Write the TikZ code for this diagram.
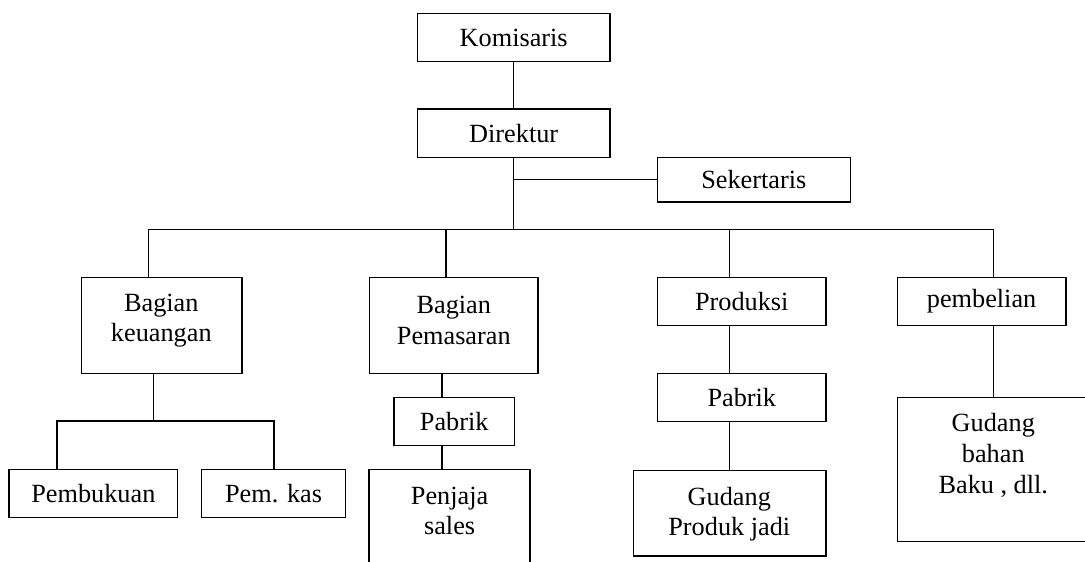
\documentclass[tikz,border=0pt]{standalone}
\usepackage{fontspec}
\setmainfont{Liberation Serif}
\begin{document}
\begin{tikzpicture}[x=0.75pt,y=-0.75pt,
  box/.style={draw, line width=1pt, rectangle, inner sep=0pt,
    font=\fontsize{19.7}{22.9}\selectfont},
  txt/.style={inner sep=0pt, align=center, font=\fontsize{19.7}{22.9}\selectfont},
  conn/.style={line width=1pt}]
\def\px{0.75pt}
\useasboundingbox (0,0) rectangle (1085,561);
\clip (0,0) rectangle (1085,561);

% top
\node[box, minimum width=192.7*\px, minimum height=48.4*\px] (kom) at (513.7,37.5) {Komisaris};
\node[box, minimum width=192.7*\px, minimum height=48.3*\px] (dir) at (513.7,133.2) {Direktur};
\node[box, minimum width=193*\px, minimum height=44.7*\px] (sek) at (753.8,179.7) {Sekertaris};

% bus junctions
\coordinate (bk)  at (148.3,229.3);
\coordinate (bp)  at (446,229.3);
\coordinate (bpr) at (729.4,229.3);
\coordinate (bb)  at (993.5,229.3);

% second level
\node[box, minimum width=160.6*\px, minimum height=96*\px] (keu) at (161.7,325.3) {};
\node[txt] (keut) at (161.3,320.5) {Bagian\\keuangan};
\node[box, minimum width=168.3*\px, minimum height=96*\px] (pem) at (453.8,325.3) {};
\node[txt] (pemt) at (453.8,320.5) {Bagian\\Pemasaran};
\node[box, minimum width=168.5*\px, minimum height=48.4*\px] (pro) at (741.8,301.5) {Produksi};
\node[box, minimum width=168.6*\px, minimum height=48.4*\px] (pbl) at (981.6,301.5) {pembelian};

% keuangan subtree
\coordinate (ks) at (153.7,421);
\coordinate (s1) at (57,421);
\coordinate (s2) at (274.1,421);
\node[box, minimum width=168.7*\px, minimum height=48*\px] (pbk) at (93.4,493.3) {Pembukuan};
\node[box, minimum width=143.8*\px, minimum height=48.5*\px] (pks) at (273.6,493.5) {Pem. kas};

% pemasaran subtree
\coordinate (pmx) at (442,400);
\node[box, minimum width=120.7*\px, minimum height=48.4*\px] (pab1) at (454.2,421.5) {Pabrik};
\node[box, minimum width=161*\px, minimum height=140*\px] (pjj) at (449.5,539.3) {};
\node[txt] (pjjt) at (449.6,510.8) {Penjaja\\sales};

% produksi subtree
\node[box, minimum width=168.5*\px, minimum height=48.4*\px] (pab2) at (741.8,397.5) {Pabrik};
\node[box, minimum width=192.8*\px, minimum height=85.7*\px] (gpj) at (729.6,513.2) {};
\node[txt] (gpjt) at (729.3,514.4) {Gudang\\Produk jadi};

% pembelian subtree
\node[box, minimum width=192.7*\px, minimum height=144.4*\px] (gb) at (993.7,469.5) {};
\node[txt] (gbt) at (993.3,455.4) {Gudang\\bahan\\Baku , dll.};

% connectors
\draw[conn] (kom.south) -- (dir.north);
\draw[conn] (dir.south) -- (dir.south |- bp);
\draw[conn] (dir.south |- sek.west) -- (sek.west);
\draw[conn] (bk) -- (bb);
\draw[conn] (bk) -- (bk |- keu.north);
\draw[conn] (bp) -- (bp |- pem.north);
\draw[conn] (bpr) -- (bpr |- pro.north);
\draw[conn] (bb) -- (bb |- pbl.north);

\draw[conn] (keu.south -| ks) -- (ks);
\draw[conn] (s1 |- pbk.north) -- (s1) -- (s2) -- (s2 |- pks.north);

\draw[conn] (pem.south -| pmx) -- (pab1.north -| pmx);
\draw[conn] (pab1.south -| pmx) -- (pjj.north -| pmx);

\draw[conn] (pro.south -| bpr) -- (pab2.north -| bpr);
\draw[conn] (pab2.south -| bpr) -- (gpj.north -| bpr);

\draw[conn] (pbl.south -| bb) -- (gb.north -| bb);
\end{tikzpicture}
\end{document}
